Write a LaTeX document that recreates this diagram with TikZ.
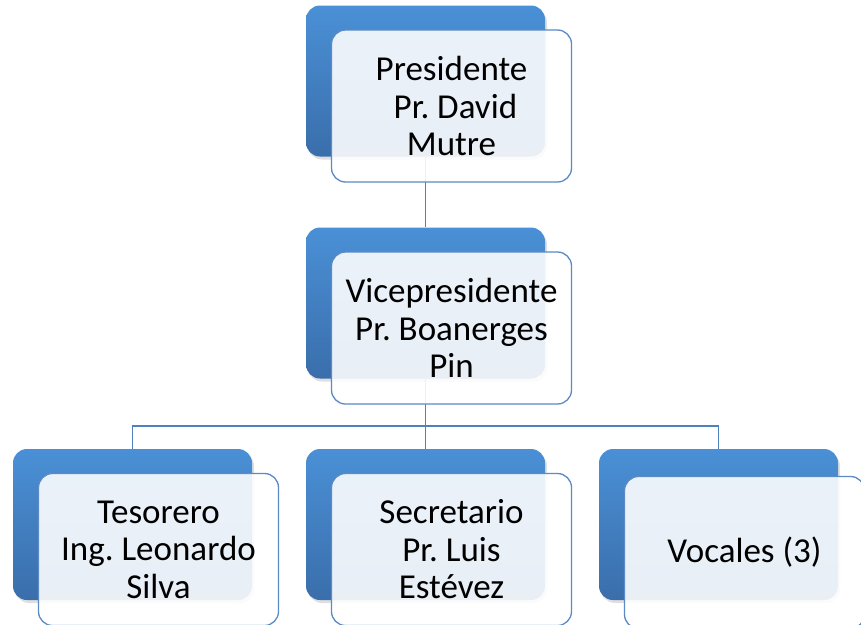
\documentclass[tikz,border=0pt]{standalone}
\usepackage{fontspec}
\setmainfont{Carlito}
\usetikzlibrary{positioning, shadows}
\definecolor{orgBlueTop}{HTML}{4A90D6}
\definecolor{orgBlueBot}{HTML}{3A6EAB}
\definecolor{orgLine}{HTML}{4F81BD}
\definecolor{orgEdge}{HTML}{5B8AC4}
\tikzset{
  org/back/.style  = {rounded corners=14pt, minimum width=239pt, minimum height=151pt,
                      top color=orgBlueTop, bottom color=orgBlueBot, draw=none,
                      drop shadow={opacity=0.25, shadow xshift=2pt, shadow yshift=-3pt}},
  org/front/.style = {rounded corners=14pt, minimum width=240pt, minimum height=152pt,
                      draw=orgEdge, line width=1.3pt, fill=white, fill opacity=0.89,
                      draw opacity=1, text opacity=1, align=center,
                      font=\fontsize{35}{37.5}\selectfont\frenchspacing},
  org/link/.style  = {draw=orgLine, line width=1.2pt},
}

\begin{document}
\begin{tikzpicture}[x=1pt, y=-1pt]
  \useasboundingbox (0,0) rectangle (861,624);
  % --- Back (blue) boxes ---
  \node[org/back] (presB) at (425.5, 81)    {};
  \node[org/back] (viceB) at (425.5, 303)   {};
  \node[org/back] (tesB)  at (132.5, 524.5) {};
  \node[org/back] (secB)  at (425.5, 524.5) {};
  \node[org/back] (vocB)  at (718.5, 524.5) {};
  % --- Links (behind the front boxes) ---
  \draw[org/link] (presB.south) -- (viceB.north);
  \coordinate (fork) at (425.5, 426);
  \draw[org/link] (viceB.south) -- (fork);
  \foreach \n in {tesB, secB, vocB}
    \draw[org/link] (fork) -| (\n.north);
  % --- Front (white) boxes with the text ---
  \node[org/front] (presF) at ([shift={(26,25)}]presB) {Presidente\\ ~Pr. David\\ Mutre};
  \node[org/front] (viceF) at ([shift={(26,25)}]viceB) {Vicepresidente\\ Pr. Boanerges\\ Pin};
  \node[org/front] (tesF)  at ([shift={(26,25)}]tesB)  {Tesorero\\ Ing. Leonardo\\ Silva};
  \node[org/front] (secF)  at ([shift={(26,25)}]secB)  {Secretario\\ Pr. Luis\\ Estévez};
  \node[org/front] (vocF)  at ([shift={(26,28)}]vocB)  {Vocales (3)};
\end{tikzpicture}
\end{document}
